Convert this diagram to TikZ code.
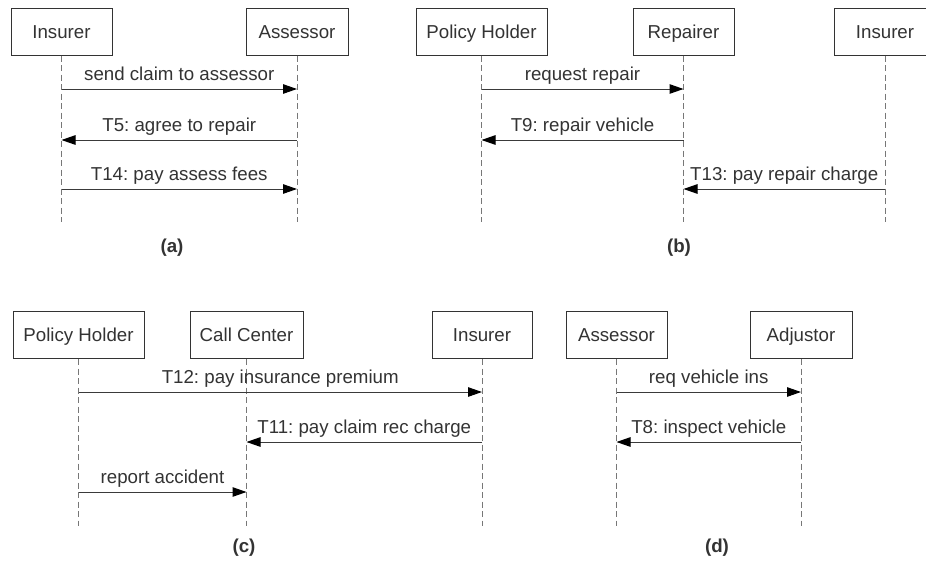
\documentclass[tikz,border=0pt]{standalone}
\usepackage{fontspec}
\setmainfont{Liberation Sans}
\usetikzlibrary{arrows.meta}
\definecolor{ink}{HTML}{333333}
\definecolor{lineink}{HTML}{3A3A3A}
\definecolor{lifeink}{HTML}{777777}
\begin{document}
\frenchspacing
\begin{tikzpicture}[x=1pt,y=-1pt,
  font=\fontsize{18.7}{22}\selectfont,
  actor/.style={draw=ink, line width=1pt, text=ink, minimum height=47pt, inner sep=0pt,
    text height=13.4pt, text depth=0pt},
  lifeline/.style={draw=lifeink, line width=1pt, dash pattern=on 6pt off 3.5pt},
  msg/.style={draw=lineink, line width=1pt,
    -{Triangle[length=14pt,width=9.5pt,color=black]}},
  msglabel/.style={midway, anchor=base, yshift=9pt, text=ink, inner sep=0pt},
  caption/.style={text=ink, font=\fontsize{18.7}{22}\selectfont\bfseries}]
\clip (0,0) rectangle (926,562);
\fill[white] (0,0) rectangle (926,562);

% ---------- (a) ----------
\node[actor, minimum width=101pt] (insA) at (61.5,31.5) {Insurer};
\node[actor, minimum width=102pt] (assA) at (297,31.5) {Assessor};
\coordinate (insAend) at (insA.south |- 0,222);
\coordinate (assAend) at (assA.south |- 0,222);
\draw[lifeline] (insA.south) -- (insAend);
\draw[lifeline] (assA.south) -- (assAend);
\draw[msg] (insA.south |- 0,89) -- (assA.south |- 0,89) node[msglabel] {send claim to assessor};
\draw[msg] (assA.south |- 0,140) -- (insA.south |- 0,140) node[msglabel] {T5: agree to repair};
\draw[msg] (insA.south |- 0,189) -- (assA.south |- 0,189) node[msglabel] {T14: pay assess fees};
\node[caption] (capA) at (172,248) {(a)};

% ---------- (b) ----------
\node[actor, minimum width=131pt] (phB) at (481.5,31.5) {Policy Holder};
\node[actor, minimum width=101pt] (repB) at (683.5,31.5) {Repairer};
\node[actor, minimum width=101pt] (insB) at (885,31.5) {Insurer};
\coordinate (phBend) at (phB.south |- 0,222);
\coordinate (repBend) at (repB.south |- 0,222);
\coordinate (insBend) at (insB.south |- 0,222);
\draw[lifeline] (phB.south) -- (phBend);
\draw[lifeline] (repB.south) -- (repBend);
\draw[lifeline] (insB.south) -- (insBend);
\draw[msg] (phB.south |- 0,89) -- (repB.south |- 0,89) node[msglabel] {request repair};
\draw[msg] (repB.south |- 0,140) -- (phB.south |- 0,140) node[msglabel] {T9: repair vehicle};
\draw[msg] (insB.south |- 0,189) -- (repB.south |- 0,189) node[msglabel] {T13: pay repair charge};
\node[caption] (capB) at (679,248) {(b)};

% ---------- (c) ----------
\node[actor, minimum width=131pt] (phC) at (78.5,335) {Policy Holder};
\node[actor, minimum width=113pt] (ccC) at (246.5,335) {Call Center};
\node[actor, minimum width=100pt] (insC) at (482,335) {Insurer};
\coordinate (phCend) at (phC.south |- 0,526);
\coordinate (ccCend) at (ccC.south |- 0,526);
\coordinate (insCend) at (insC.south |- 0,526);
\draw[lifeline] (phC.south) -- (phCend);
\draw[lifeline] (ccC.south) -- (ccCend);
\draw[lifeline] (insC.south) -- (insCend);
\draw[msg] (phC.south |- 0,392) -- (insC.south |- 0,392) node[msglabel] {T12: pay insurance premium};
\draw[msg] (insC.south |- 0,442) -- (ccC.south |- 0,442) node[msglabel] {T11: pay claim rec charge};
\draw[msg] (phC.south |- 0,492) -- (ccC.south |- 0,492) node[msglabel] {report accident};
\node[caption] (capC) at (244,548) {(c)};

% ---------- (d) ----------
\node[actor, minimum width=101pt] (assD) at (616.5,335) {Assessor};
\node[actor, minimum width=102pt] (adjD) at (801,335) {Adjustor};
\coordinate (assDend) at (assD.south |- 0,526);
\coordinate (adjDend) at (adjD.south |- 0,526);
\draw[lifeline] (assD.south) -- (assDend);
\draw[lifeline] (adjD.south) -- (adjDend);
\draw[msg] (assD.south |- 0,392) -- (adjD.south |- 0,392) node[msglabel] {req vehicle ins};
\draw[msg] (adjD.south |- 0,442) -- (assD.south |- 0,442) node[msglabel] {T8: inspect vehicle};
\node[caption] (capD) at (717,548) {(d)};
\end{tikzpicture}
\end{document}
